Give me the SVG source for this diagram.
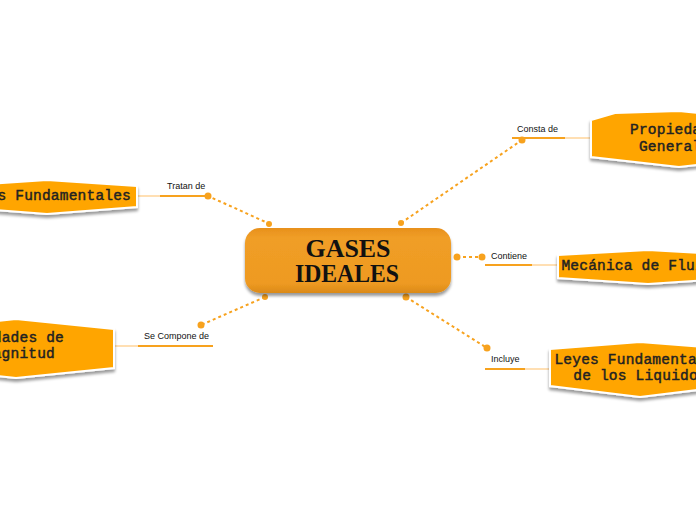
<svg xmlns="http://www.w3.org/2000/svg" width="696" height="520" viewBox="0 0 696 520">
<defs>
<linearGradient id="cg" x1="0" y1="0" x2="0" y2="1">
<stop offset="0" stop-color="#E8901C"/>
<stop offset="0.15" stop-color="#F09E26"/>
<stop offset="0.85" stop-color="#EE9A22"/>
<stop offset="1" stop-color="#DB8A18"/>
</linearGradient>
<filter id="sh" x="-20%" y="-30%" width="140%" height="170%">
<feGaussianBlur in="SourceAlpha" stdDeviation="1.5"/>
<feOffset dx="0" dy="3" result="b"/>
<feComponentTransfer><feFuncA type="linear" slope="0.4"/></feComponentTransfer>
<feMerge><feMergeNode/><feMergeNode in="SourceGraphic"/></feMerge>
</filter>
</defs>
<style>
.node{fill:#FFA500;stroke:#FFFFFF;stroke-width:2;filter:url(#sh)}
.nt{font-family:"Liberation Mono","Courier New",monospace;font-size:14.5px;font-weight:normal;fill:#222;stroke:#222;stroke-width:0.45;letter-spacing:0.2px}
.dash{stroke:#F7A21E;stroke-width:2;stroke-dasharray:3 3;fill:none}
.dot{fill:#F7A21E}
.ul{stroke:#F7A21E;stroke-width:2}
.lt{stroke:#FFD49A;stroke-width:1.5}
.lbl{font-family:"Liberation Sans",Arial,sans-serif;font-size:9px;fill:#111}
</style>
<rect width="696" height="520" fill="#FFFFFF"/>
<g id="connectors">
<line class="dash" x1="270" y1="224" x2="208" y2="196"/>
<line class="lt" x1="137" y1="196" x2="160" y2="196"/>
<line class="ul" x1="160" y1="196" x2="208" y2="196"/>
<circle class="dot" cx="208" cy="196" r="3.5"/>
<circle class="dot" cx="269" cy="224" r="3"/>
<text class="lbl" x="167" y="189">Tratan de</text>

<line class="dash" x1="265" y1="297" x2="201" y2="325"/>
<line class="lt" x1="114" y1="346" x2="138" y2="346"/>
<line class="ul" x1="138" y1="346" x2="213" y2="346"/>
<circle class="dot" cx="201" cy="325" r="3.5"/>
<circle class="dot" cx="265" cy="297" r="3"/>
<text class="lbl" x="144" y="339">Se Compone de</text>

<line class="dash" x1="401" y1="223" x2="522" y2="140"/>
<line class="ul" x1="512" y1="138" x2="565" y2="138"/>
<line class="lt" x1="565" y1="138" x2="591" y2="138"/>
<circle class="dot" cx="522" cy="140" r="3.5"/>
<circle class="dot" cx="401" cy="223" r="3"/>
<text class="lbl" x="517" y="132">Consta de</text>

<line class="dash" x1="457" y1="257" x2="482" y2="257"/>
<line class="ul" x1="485" y1="265" x2="532" y2="265"/>
<line class="lt" x1="532" y1="265" x2="558" y2="265"/>
<circle class="dot" cx="457" cy="257" r="3.5"/>
<circle class="dot" cx="482" cy="257" r="3.5"/>
<text class="lbl" x="491" y="259">Contiene</text>

<line class="dash" x1="406" y1="297" x2="487" y2="348"/>
<line class="ul" x1="485" y1="369" x2="525" y2="369"/>
<line class="lt" x1="525" y1="369" x2="550" y2="369"/>
<circle class="dot" cx="406" cy="297" r="3.5"/>
<circle class="dot" cx="487" cy="348" r="3.5"/>
<text class="lbl" x="491" y="362">Incluye</text>
</g>

<g id="central">
<rect x="245" y="228" width="206" height="65" rx="15" fill="url(#cg)" filter="url(#sh)"/>
<text x="348" y="257" text-anchor="middle" textLength="85" lengthAdjust="spacingAndGlyphs" style="font-family:'Liberation Serif','Times New Roman',serif;font-size:25px;font-weight:bold;fill:#111">GASES</text>
<text x="347" y="282" text-anchor="middle" textLength="104" lengthAdjust="spacingAndGlyphs" style="font-family:'Liberation Serif','Times New Roman',serif;font-size:25px;font-weight:bold;fill:#111">IDEALES</text>
</g>

<g id="n-propiedades">
<polygon class="node" points="591,120 615,113 679,111 768,120 768,157 679,167 591,157"/>
<text class="nt" x="679" y="134" text-anchor="middle">Propiedades</text>
<text class="nt" x="679" y="151" text-anchor="middle">Generales</text>
</g>

<g id="n-mecanica">
<polygon class="node" points="558,255 648,250 738,255 738,278 648,284 558,278"/>
<text class="nt" x="646" y="270" text-anchor="middle">Mecánica de Fluidos</text>
</g>

<g id="n-leyes-liquidos">
<polygon class="node" points="550,349 640,342 731,349 731,386 640,397 550,386"/>
<text class="nt" x="639" y="364" text-anchor="middle">Leyes Fundamentales</text>
<text class="nt" x="640" y="380" text-anchor="middle">de los Liquidos</text>
</g>

<g id="n-leyes-fund">
<polygon class="node" points="-43,186 47,180 137,186 137,207 47,214 -43,207"/>
<text class="nt" x="131" y="200" text-anchor="end">Leyes Fundamentales</text>
</g>

<g id="n-unidades">
<polygon class="node" points="-82,329 16,319 114,329 114,368 16,378 -82,368"/>
<text class="nt" x="64" y="342" text-anchor="end">Unidades de</text>
<text class="nt" x="55" y="358" text-anchor="end">Magnitud</text>
</g>
</svg>
